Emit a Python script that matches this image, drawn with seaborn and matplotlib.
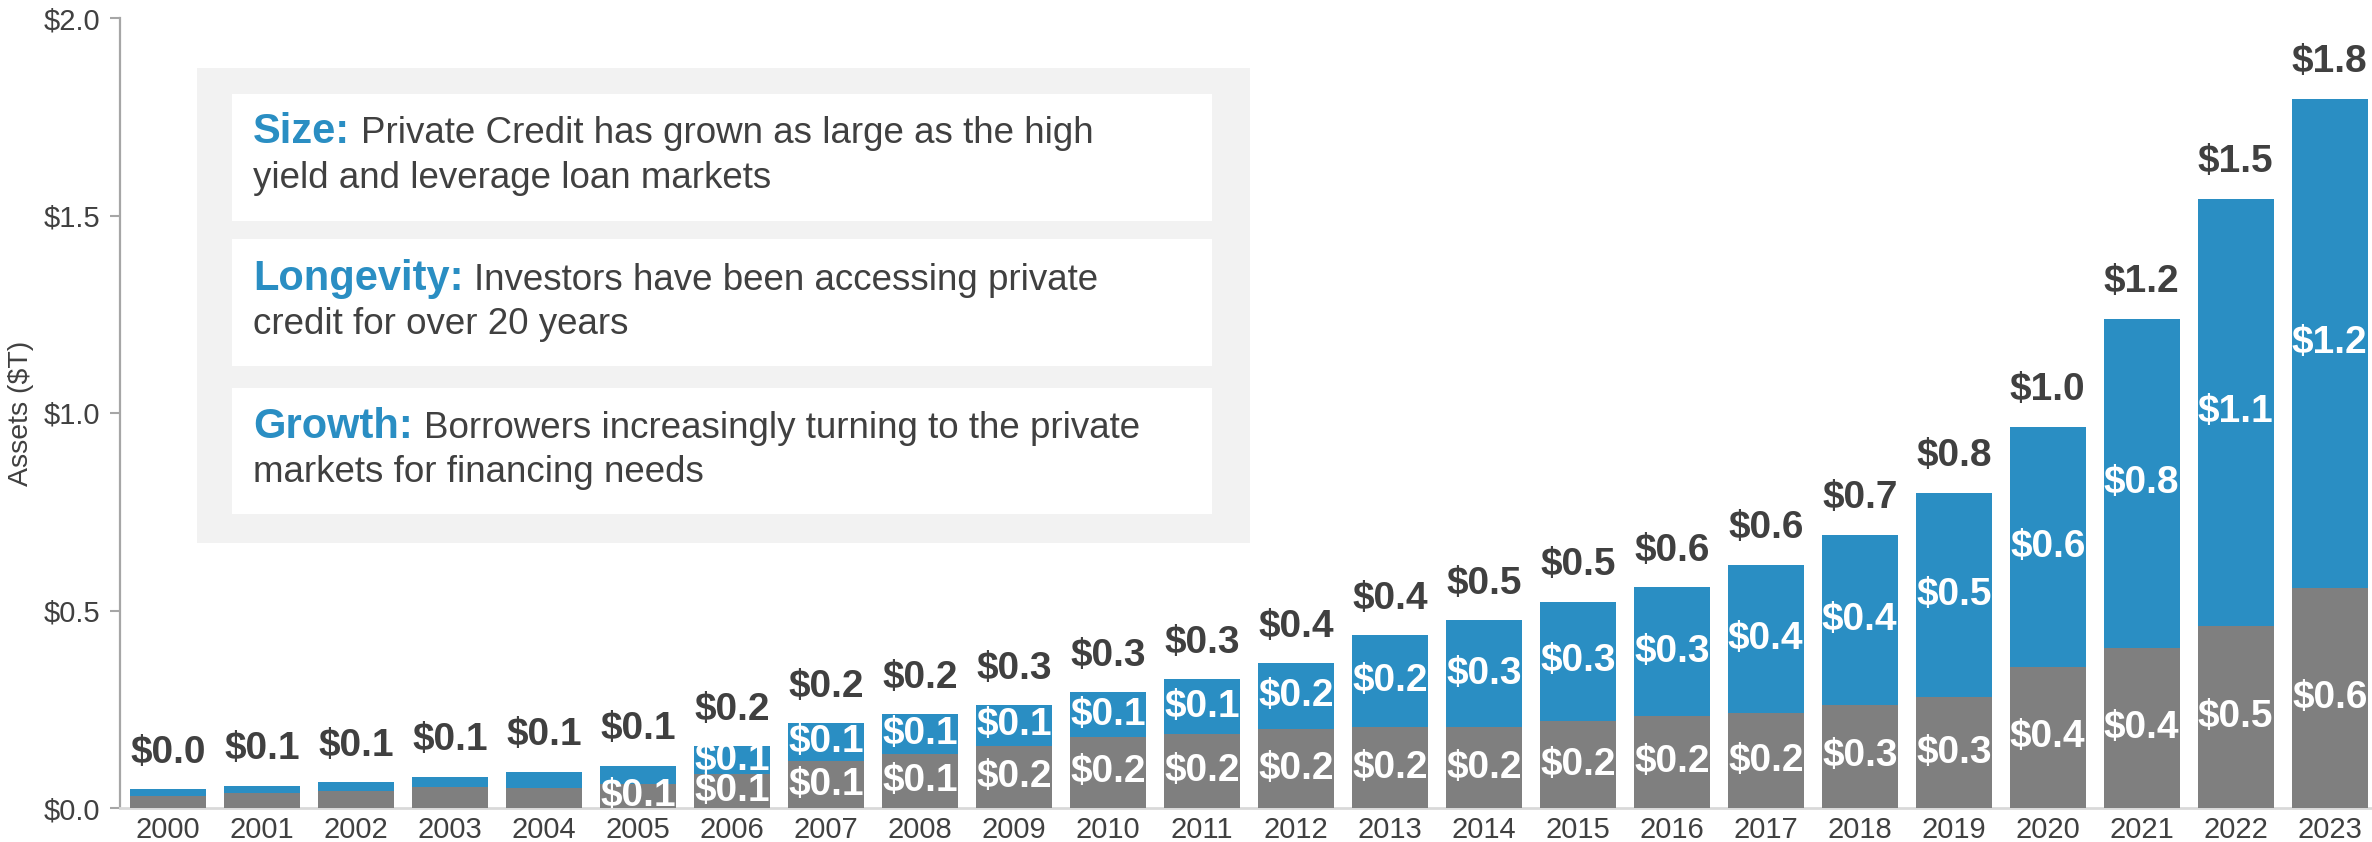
import matplotlib
matplotlib.use("Agg")
import matplotlib.pyplot as plt
import matplotlib.patches as mpatches
import seaborn as sns
import numpy as np
import pandas as pd

# ---------------- data ----------------
years = [str(y) for y in range(2000, 2024)]
grey_vals = [0.030, 0.038, 0.043, 0.053, 0.050, 0.061, 0.086, 0.118, 0.137, 0.157, 0.180, 0.187,
             0.199, 0.205, 0.205, 0.220, 0.233, 0.240, 0.261, 0.281, 0.358, 0.405, 0.461, 0.557]
blue_vals = [0.017, 0.018, 0.023, 0.026, 0.042, 0.046, 0.070, 0.097, 0.101, 0.104, 0.113, 0.139,
             0.168, 0.233, 0.271, 0.302, 0.326, 0.376, 0.431, 0.517, 0.607, 0.834, 1.082, 1.239]
y_ticks = [0.0, 0.5, 1.0, 1.5, 2.0]
y_label = "Assets ($T)"
headings = ["Size:", "Longevity:", "Growth:"]
bodies = [
    ["Private Credit has grown as large as the high", "yield and leverage loan markets"],
    ["Investors have been accessing private", "credit for over 20 years"],
    ["Borrowers increasingly turning to the private", "markets for financing needs"],
]
label_min_segment = 0.06

# ---------------- style ----------------
BLUE = "#2A8EC3"
GREY = "#7F7F7F"
DARK = "#404040"
BOXGREY = "#F2F2F2"

sns.set_theme(style="white")
plt.rcParams["font.family"] = ["Liberation Sans", "DejaVu Sans"]

W, H = 2372, 842
fig = plt.figure(figsize=(W / 100, H / 100), dpi=100)
ax = fig.add_axes([120 / W, (H - 808) / H, 1 - 120 / W, (808 - 18) / H])

df = pd.DataFrame({"year": years, "grey": grey_vals, "blue": blue_vals})
df["total"] = df["grey"] + df["blue"]

sns.barplot(data=df, x="year", y="total", color=BLUE, saturation=1, width=0.81, ax=ax,
            zorder=2, linewidth=0, edgecolor="none")
sns.barplot(data=df, x="year", y="grey", color=GREY, saturation=1, width=0.81, ax=ax,
            zorder=3, linewidth=0, edgecolor="none")

ax.set_ylim(0, 2.0)
ax.set_xlim(-0.51, len(years) - 1 + 0.45)
ax.set_yticks(y_ticks)
ax.set_yticklabels([f"${v:.1f}" for v in y_ticks], fontsize=21, color=DARK)
ax.tick_params(axis="y", length=7, width=1.5, color="#A6A6A6", pad=7, direction="out", left=True)
ax.tick_params(axis="x", length=0, pad=6, labelsize=21, labelcolor=DARK)
ax.set_xlabel("")
ax.set_ylabel(y_label, fontsize=20.5, color=DARK)
ax.yaxis.set_label_coords(-0.038, 0.5)
for s in ["top", "right"]:
    ax.spines[s].set_visible(False)
ax.spines["left"].set_color("#A6A6A6")
ax.spines["left"].set_linewidth(1.6)
ax.spines["bottom"].set_color("#D9D9D9")
ax.spines["bottom"].set_linewidth(2)

# labels
for i, (g, b) in enumerate(zip(grey_vals, blue_vals)):
    tot = g + b
    ax.annotate(f"${tot:.1f}", xy=(i, tot), xytext=(0, 19), textcoords="offset points",
                ha="center", va="baseline", fontsize=28, fontweight="bold", color=DARK, zorder=5)
    if g >= label_min_segment:
        ax.text(i, g / 2, f"${g:.1f}", ha="center", va="center", fontsize=28,
                fontweight="bold", color="white", zorder=5, clip_on=True)
    if b >= label_min_segment:
        ax.text(i, g + b / 2, f"${b:.1f}", ha="center", va="center", fontsize=28,
                fontweight="bold", color="white", zorder=5, clip_on=True)

# ---------------- callout box ----------------
def px_rect(x0, y0, x1, y1, color, z):
    r = mpatches.Rectangle((x0 / W, 1 - y1 / H), (x1 - x0) / W, (y1 - y0) / H,
                           transform=fig.transFigure, facecolor=color, edgecolor="none",
                           zorder=z, clip_on=False)
    ax.add_patch(r)

px_rect(197, 68, 1250, 543, BOXGREY, 6)
inner = [(94, 221), (239, 366), (388, 514)]
for (y0, y1) in inner:
    px_rect(232, y0, 1212, y1, "white", 7)

baselines = [(143, 188), (290, 334), (438, 482)]
fig.canvas.draw()
renderer = fig.canvas.get_renderer()
for head, body, (b1, b2) in zip(headings, bodies, baselines):
    t = fig.text(253 / W, 1 - b1 / H, head, fontsize=30, fontweight="bold", color=BLUE,
                 ha="left", va="baseline", zorder=8)
    bb = t.get_window_extent(renderer=renderer)
    fig.text((bb.x1 + 11) / W, 1 - b1 / H, body[0], fontsize=26.5, color=DARK,
             ha="left", va="baseline", zorder=8)
    fig.text(253 / W, 1 - b2 / H, body[1], fontsize=26.5, color=DARK,
             ha="left", va="baseline", zorder=8)

fig.savefig("out.png", dpi=100)
